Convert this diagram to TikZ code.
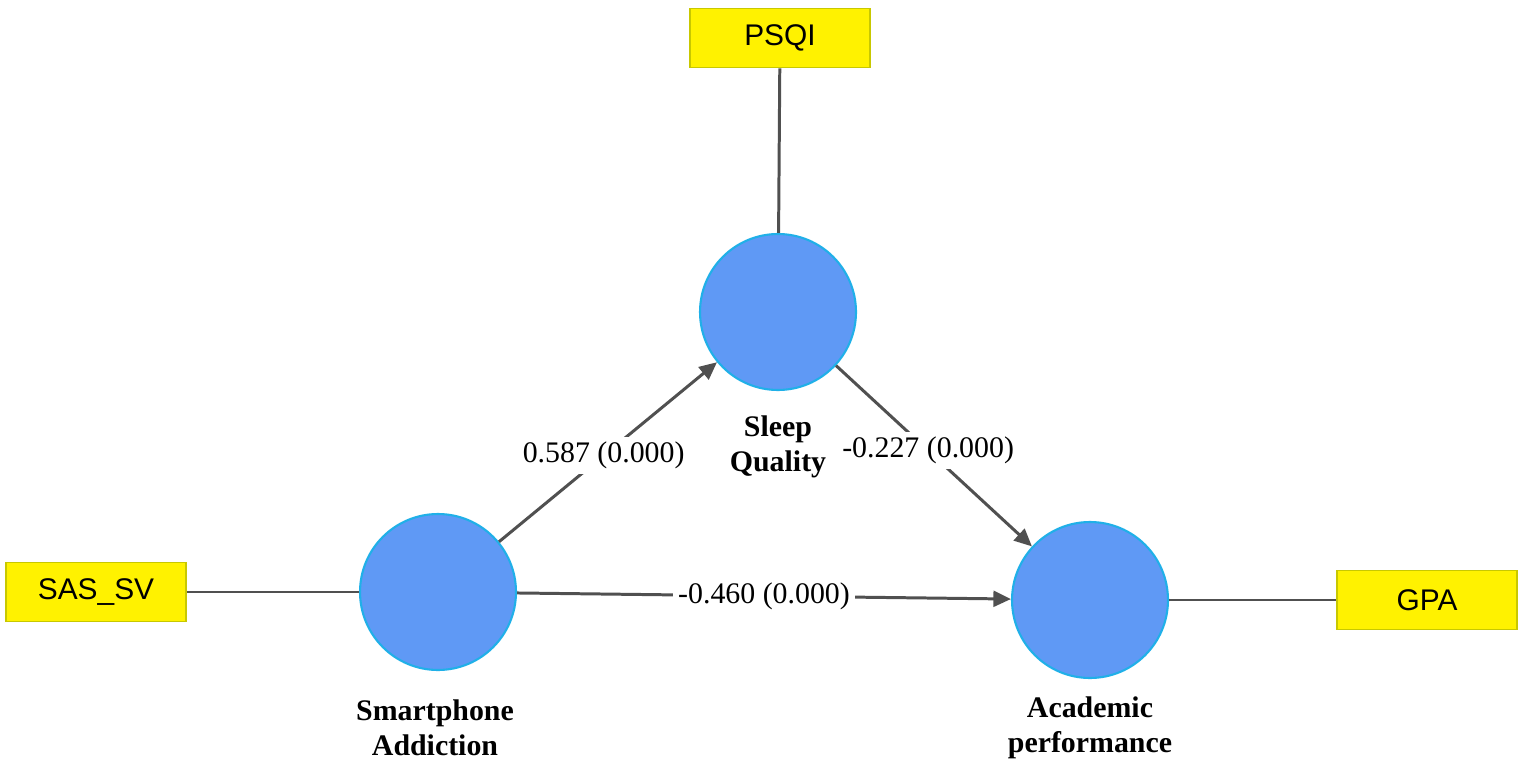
\documentclass[tikz,border=0pt]{standalone}
\usepackage{fontspec}
\setmainfont{Liberation Serif}
\newfontfamily\arialfont{Liberation Sans}
\usetikzlibrary{arrows.meta, positioning}

\definecolor{latent}{HTML}{5F99F5}
\definecolor{latentrim}{HTML}{20B0E8}
\definecolor{boxrim}{HTML}{C8C800}
\definecolor{pathgray}{HTML}{505050}

\tikzset{
  construct/.style={circle, draw=latentrim, fill=latent, line width=1.2pt, minimum size=3.12cm, inner sep=0pt},
  indicator/.style={rectangle, draw=boxrim, fill=yellow, line width=1pt, minimum width=3.6cm, minimum height=1.18cm, font=\arialfont\fontsize{17}{20}\selectfont},
  caption/.style={align=center, font=\bfseries\fontsize{17}{20}\selectfont},
  coef/.style={fill=white, inner sep=3pt, font=\fontsize{17}{20}\selectfont},
  path/.style={draw=pathgray, line width=1.7pt},
  effect/.style={path, -{Triangle[length=10pt, width=9pt]}}
}

\begin{document}
\begin{tikzpicture}[x=0.02cm, y=-0.02cm]
\useasboundingbox (0,0) rectangle (1524,770);

% constructs
\node [construct] (sleep) at (778, 312) {};
\node [construct] (smart) at (438, 592) {};
\node [construct] (acad) at (1090, 600) {};

% indicators
\node [indicator] (psqi) at (780, 38) {PSQI};
\node [indicator] (sas) at (96, 592) {SAS\_SV};
\node [indicator] (gpa) at (1427, 600) {GPA};

% construct names
\node [caption] (sleepname) at (778, 447) {Sleep\\Quality};
\node [caption] (smartname) at (435, 728) {Smartphone\\Addiction};
\node [caption] (acadname) at (1090, 728) {Academic\\performance};

% measurement links
\draw [path] (psqi) -- (sleep);
\draw [path] (sas) -- (smart);
\draw [path] (acad) -- (gpa);

% structural paths
\draw [effect] (smart) -- node [coef, pos=0.48] {0.587 (0.000)} (sleep);
\draw [effect] (sleep) -- node [coef, pos=0.47] {-0.227 (0.000)} (acad);
\draw [effect] (smart) -- node [coef, pos=0.5] {-0.460 (0.000)} (acad);
\end{tikzpicture}
\end{document}
